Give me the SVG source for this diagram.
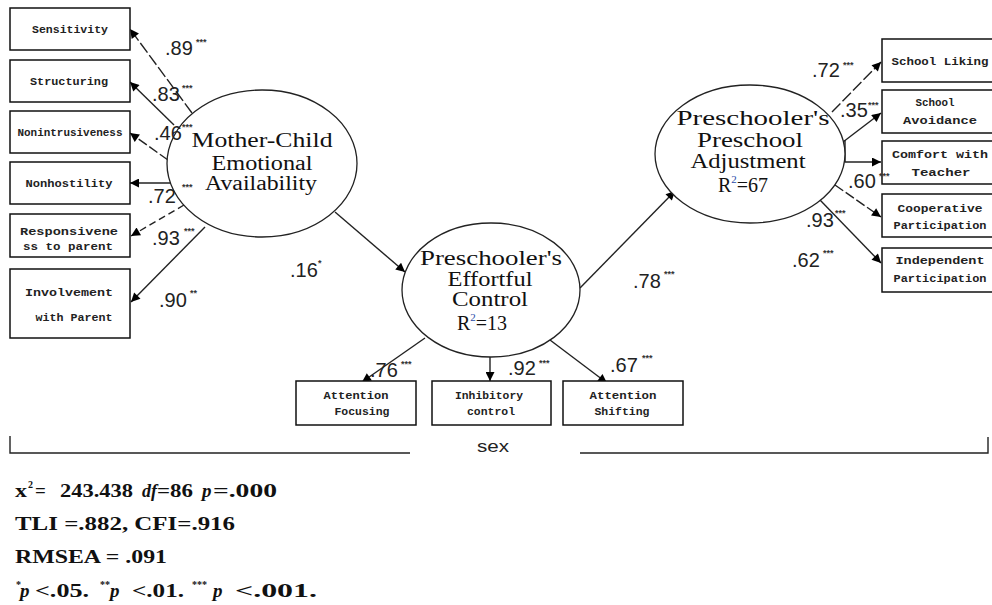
<svg xmlns="http://www.w3.org/2000/svg" width="992" height="605" viewBox="0 0 992 605">
<defs>
<marker id="ah" viewBox="0 0 10 10" refX="10" refY="5" markerWidth="11" markerHeight="9" markerUnits="userSpaceOnUse" orient="auto">
<path d="M0,0 L10,5 L0,10 z" fill="#000"/>
</marker>
<style>
.box{fill:#fff;stroke:#111;stroke-width:1.5}
.ell{fill:#fff;stroke:#222;stroke-width:1.3}
.bt{font-family:"Liberation Mono",monospace;font-weight:bold;font-size:11px;fill:#222;text-anchor:middle}
.et{font-family:"Liberation Serif",serif;font-size:20px;fill:#111;text-anchor:middle}
.co{font-family:"Liberation Sans",Arial,sans-serif;font-size:20px;fill:#222}
.st{font-family:"Liberation Sans",Arial,sans-serif;font-size:9px;font-weight:bold;fill:#333}
.ln{stroke:#222;stroke-width:1.4;fill:none}
.ar{stroke:#222;stroke-width:1.4;fill:none;marker-end:url(#ah)}
.ft{font-family:"Liberation Serif",serif;font-weight:bold;font-size:19px;fill:#111}
.fs{font-family:"Liberation Serif",serif;font-weight:bold;font-size:10px;fill:#111}
</style>
</defs>

<g id="connectors">
<line class="ar" x1="192" y1="113" x2="130" y2="29" stroke-dasharray="12,3"/>
<line class="ar" x1="174" y1="125" x2="130" y2="82"/>
<line class="ar" x1="168" y1="160" x2="130" y2="133" stroke-dasharray="10,3"/>
<line class="ar" x1="173" y1="183" x2="130" y2="183"/>
<line class="ar" x1="184" y1="205" x2="131" y2="236" stroke-dasharray="7,4"/>
<line class="ar" x1="205" y1="227" x2="131" y2="302"/>
<line class="ar" x1="335" y1="212" x2="405" y2="272"/>
<line class="ar" x1="580" y1="288" x2="675" y2="191"/>
<line class="ar" x1="425" y1="338" x2="362" y2="382"/>
<line class="ar" x1="490" y1="357" x2="490" y2="381"/>
<line class="ar" x1="550" y1="340" x2="607" y2="383"/>
<line class="ar" x1="832" y1="112" x2="881" y2="62" stroke-dasharray="12,3"/>
<line class="ar" x1="843" y1="142" x2="881" y2="113"/>
<line class="ln" x1="845" y1="140" x2="845" y2="162"/>
<line class="ar" x1="845" y1="162" x2="881" y2="162"/>
<line class="ar" x1="835" y1="185" x2="881" y2="217" stroke-dasharray="10,3"/>
<line class="ar" x1="820" y1="200" x2="881" y2="263"/>
</g>

<g id="mother-child">
<ellipse class="ell" cx="262" cy="163.5" rx="95" ry="73.5"/>
<text class="et" x="262" y="147" textLength="141" lengthAdjust="spacingAndGlyphs">Mother-Child</text>
<text class="et" x="262" y="170" textLength="101" lengthAdjust="spacingAndGlyphs">Emotional</text>
<text class="et" x="261" y="190" textLength="112" lengthAdjust="spacingAndGlyphs">Availability</text>
</g>

<g id="effortful-control">
<ellipse class="ell" cx="491" cy="290" rx="89" ry="67"/>
<text class="et" x="491" y="265" textLength="142" lengthAdjust="spacingAndGlyphs">Preschooler's</text>
<text class="et" x="490" y="286" textLength="85" lengthAdjust="spacingAndGlyphs">Effortful</text>
<text class="et" x="490" y="306" textLength="76" lengthAdjust="spacingAndGlyphs">Control</text>
<text class="et" x="457" y="330" style="text-anchor:start">R<tspan font-size="11" dy="-9" fill="#2a4aa8">2</tspan><tspan dy="9">=13</tspan></text>
</g>

<g id="preschool-adjustment">
<ellipse class="ell" cx="750" cy="154" rx="95" ry="69"/>
<text class="et" x="753" y="125" textLength="153" lengthAdjust="spacingAndGlyphs">Preschooler's</text>
<text class="et" x="750" y="147" textLength="106" lengthAdjust="spacingAndGlyphs">Preschool</text>
<text class="et" x="748" y="168" textLength="115" lengthAdjust="spacingAndGlyphs">Adjustment</text>
<text class="et" x="718" y="192" style="text-anchor:start">R<tspan font-size="11" dy="-9" fill="#2a4aa8">2</tspan><tspan dy="9">=67</tspan></text>
</g>

<g id="sensitivity"><rect class="box" x="10" y="8" width="120" height="42"/><text class="bt" x="70" y="33" textLength="76" lengthAdjust="spacingAndGlyphs">Sensitivity</text></g>
<g id="structuring"><rect class="box" x="10" y="60" width="120" height="42"/><text class="bt" x="69" y="85" textLength="78" lengthAdjust="spacingAndGlyphs">Structuring</text></g>
<g id="nonintrusiveness"><rect class="box" x="10" y="111" width="120" height="42"/><text class="bt" x="70" y="136" textLength="105" lengthAdjust="spacingAndGlyphs">Nonintrusiveness</text></g>
<g id="nonhostility"><rect class="box" x="10" y="162" width="120" height="42"/><text class="bt" x="69" y="187" textLength="87" lengthAdjust="spacingAndGlyphs">Nonhostility</text></g>
<g id="responsiveness"><rect class="box" x="10" y="214" width="120" height="43"/><text class="bt" x="69" y="235" textLength="98" lengthAdjust="spacingAndGlyphs">Responsivene</text><text class="bt" x="68" y="250" textLength="90" lengthAdjust="spacingAndGlyphs">ss to parent</text></g>
<g id="involvement"><rect class="box" x="10" y="269" width="120" height="69"/><text class="bt" x="69" y="296" textLength="88" lengthAdjust="spacingAndGlyphs">Involvement</text><text class="bt" x="74" y="321" textLength="77" lengthAdjust="spacingAndGlyphs">with Parent</text></g>

<g id="school-liking"><rect class="box" x="882" y="39" width="120" height="43"/><text class="bt" x="940" y="65" textLength="97" lengthAdjust="spacingAndGlyphs">School Liking</text></g>
<g id="school-avoidance"><rect class="box" x="882" y="90" width="120" height="43"/><text class="bt" x="935" y="106" textLength="39" lengthAdjust="spacingAndGlyphs">School</text><text class="bt" x="940" y="124" textLength="74" lengthAdjust="spacingAndGlyphs">Avoidance</text></g>
<g id="comfort"><rect class="box" x="882" y="141" width="120" height="43"/><text class="bt" x="940" y="158" textLength="96" lengthAdjust="spacingAndGlyphs">Comfort with</text><text class="bt" x="941" y="176" textLength="59" lengthAdjust="spacingAndGlyphs">Teacher</text></g>
<g id="cooperative"><rect class="box" x="882" y="194" width="120" height="43"/><text class="bt" x="940" y="212" textLength="85" lengthAdjust="spacingAndGlyphs">Cooperative</text><text class="bt" x="940" y="229" textLength="93" lengthAdjust="spacingAndGlyphs">Participation</text></g>
<g id="independent"><rect class="box" x="882" y="248" width="120" height="44"/><text class="bt" x="940" y="264" textLength="89" lengthAdjust="spacingAndGlyphs">Independent</text><text class="bt" x="940" y="282" textLength="93" lengthAdjust="spacingAndGlyphs">Participation</text></g>

<g id="attention-focusing"><rect class="box" x="296" y="381" width="120" height="44"/><text class="bt" x="356" y="399" textLength="65" lengthAdjust="spacingAndGlyphs">Attention</text><text class="bt" x="362" y="415" textLength="55" lengthAdjust="spacingAndGlyphs">Focusing</text></g>
<g id="inhibitory-control"><rect class="box" x="432" y="381" width="119" height="44"/><text class="bt" x="489" y="399" textLength="68" lengthAdjust="spacingAndGlyphs">Inhibitory</text><text class="bt" x="491" y="415" textLength="48" lengthAdjust="spacingAndGlyphs">control</text></g>
<g id="attention-shifting"><rect class="box" x="563" y="381" width="120" height="44"/><text class="bt" x="623" y="399" textLength="67" lengthAdjust="spacingAndGlyphs">Attention</text><text class="bt" x="622" y="415" textLength="55" lengthAdjust="spacingAndGlyphs">Shifting</text></g>

<g id="coefficients">
<text class="co" x="165" y="55">.89</text><text class="st" x="196" y="45">***</text>
<text class="co" x="152" y="101">.83</text><text class="st" x="182" y="91">***</text>
<text class="co" x="154" y="140">.46</text><text class="st" x="182" y="130">***</text>
<text class="co" x="148" y="203">.72</text><text class="st" x="182" y="190">***</text>
<text class="co" x="152" y="245">.93</text><text class="st" x="184" y="234">***</text>
<text class="co" x="159" y="307">.90</text><text class="st" x="190" y="296">**</text>
<text class="co" x="290" y="277">.16</text><text class="st" x="318" y="266">*</text>
<text class="co" x="370" y="377">.76</text><text class="st" x="401" y="367">***</text>
<text class="co" x="508" y="375">.92</text><text class="st" x="539" y="366">***</text>
<text class="co" x="610" y="372">.67</text><text class="st" x="642" y="361">***</text>
<text class="co" x="633" y="288">.78</text><text class="st" x="664" y="277">***</text>
<text class="co" x="812" y="77">.72</text><text class="st" x="843" y="68">***</text>
<text class="co" x="840" y="117">.35</text><text class="st" x="868" y="108">***</text>
<text class="co" x="848" y="188">.60</text><text class="st" x="879" y="179">***</text>
<text class="co" x="806" y="227">.93</text><text class="st" x="835" y="216">***</text>
<text class="co" x="792" y="267">.62</text><text class="st" x="823" y="256">***</text>
</g>

<g id="sex">
<path class="ln" d="M10,436 V453 H410"/>
<path class="ln" d="M580,453 H988 V437"/>
<text x="477" y="452" font-family="Liberation Sans, Arial, sans-serif" font-size="17" fill="#222" textLength="32" lengthAdjust="spacingAndGlyphs">sex</text>
</g>

<g id="fit">
<text class="ft" x="15" y="497" textLength="12" lengthAdjust="spacingAndGlyphs">x</text><text class="fs" x="28" y="488">2</text>
<text class="ft" x="35" y="497">=</text>
<text class="ft" x="60" y="497" textLength="73" lengthAdjust="spacingAndGlyphs">243.438</text>
<text class="ft" x="142" y="497" font-style="italic" textLength="15" lengthAdjust="spacingAndGlyphs">df</text>
<text class="ft" x="157" y="497" textLength="36" lengthAdjust="spacingAndGlyphs">=86</text>
<text class="ft" x="202" y="497" font-style="italic">p</text>
<text class="ft" x="213" y="497" textLength="64" lengthAdjust="spacingAndGlyphs">=.000</text>
<text class="ft" x="15" y="530" textLength="220" lengthAdjust="spacingAndGlyphs">TLI =.882, CFI=.916</text>
<text class="ft" x="15" y="563" textLength="152" lengthAdjust="spacingAndGlyphs">RMSEA = .091</text>
<text class="fs" x="16" y="588">*</text>
<text class="ft" x="20" y="597" font-style="italic">p</text>
<text class="ft" x="35" y="597" textLength="54" lengthAdjust="spacingAndGlyphs">&lt;.05.</text>
<text class="fs" x="100" y="588">**</text>
<text class="ft" x="110" y="597" font-style="italic">p</text>
<text class="ft" x="132" y="597" textLength="52" lengthAdjust="spacingAndGlyphs">&lt;.01.</text>
<text class="fs" x="192" y="588">***</text>
<text class="ft" x="213" y="597" font-style="italic">p</text>
<text class="ft" x="235" y="597" textLength="82" lengthAdjust="spacingAndGlyphs">&lt;.001.</text>
</g>
</svg>
